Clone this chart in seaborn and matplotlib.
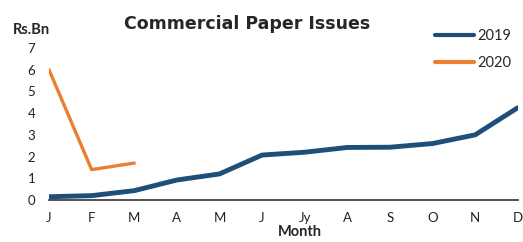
import seaborn as sns
import pandas as pd
import matplotlib.pyplot as plt

months = ['J', 'F', 'M', 'A', 'M', 'J', 'Jy', 'A', 'S', 'O', 'N', 'D']
issues_2019 = [0.15, 0.2, 0.43, 0.92, 1.2, 2.07, 2.2, 2.42, 2.43, 2.6, 3.0, 4.25]
issues_2020 = [6.0, 1.4, 1.7]

sns.set_style('white')
plt.rcParams['font.family'] = ['Lato', 'DejaVu Sans']

df = pd.concat([
    pd.DataFrame({'pos': range(len(issues_2019)), 'value': issues_2019, 'year': '2019'}),
    pd.DataFrame({'pos': range(len(issues_2020)), 'value': issues_2020, 'year': '2020'}),
])

fig = plt.figure(figsize=(5.23, 2.42), dpi=100)
ax = fig.add_axes([0.0937, 0.1736, 0.8963, 0.628])

sns.lineplot(data=df, x='pos', y='value', hue='year',
             palette={'2019': '#1F4E79', '2020': '#ED7D31'},
             ax=ax, solid_capstyle='round', solid_joinstyle='round')
for line, lw in zip(ax.lines, [3.5, 2.4]):
    line.set_linewidth(lw)

ax.set_xlim(0, 11)
ax.set_ylim(0, 7)
ax.set_xticks(range(len(months)))
ax.set_xticklabels(months)
ax.set_yticks(range(0, 8))
ax.tick_params(axis='both', length=0, labelsize=9.5, colors='#222222')
ax.tick_params(axis='x', pad=9)
ax.tick_params(axis='y', pad=10)

for s in ['top', 'right', 'left']:
    ax.spines[s].set_visible(False)
ax.spines['bottom'].set_color('#333333')
ax.spines['bottom'].set_linewidth(1.2)

# axis titles placed by hand, like the original
ax.set_xlabel('')
ax.set_ylabel('')
fig.text(0.574, 0.012, 'Month', ha='center', va='bottom',
         fontsize=10.5, fontweight='bold')
fig.text(0.473, 0.90, 'Commercial Paper Issues', ha='center', va='center',
         fontsize=12.5, fontweight='bold', family='DejaVu Sans')
fig.text(0.025, 0.875, 'Rs.Bn', ha='left', va='center', fontsize=10.5, fontweight='bold')

leg = ax.legend(loc='upper left', bbox_to_anchor=(435 / 523, 1 - 29 / 242),
                bbox_transform=fig.transFigure, frameon=False, borderpad=0,
                borderaxespad=0, fontsize=10.5, handlelength=2.7,
                handletextpad=0.2, labelspacing=0.9)
for h in leg.get_lines():
    h.set_linewidth(3)

fig.savefig('out.png', dpi=100)
